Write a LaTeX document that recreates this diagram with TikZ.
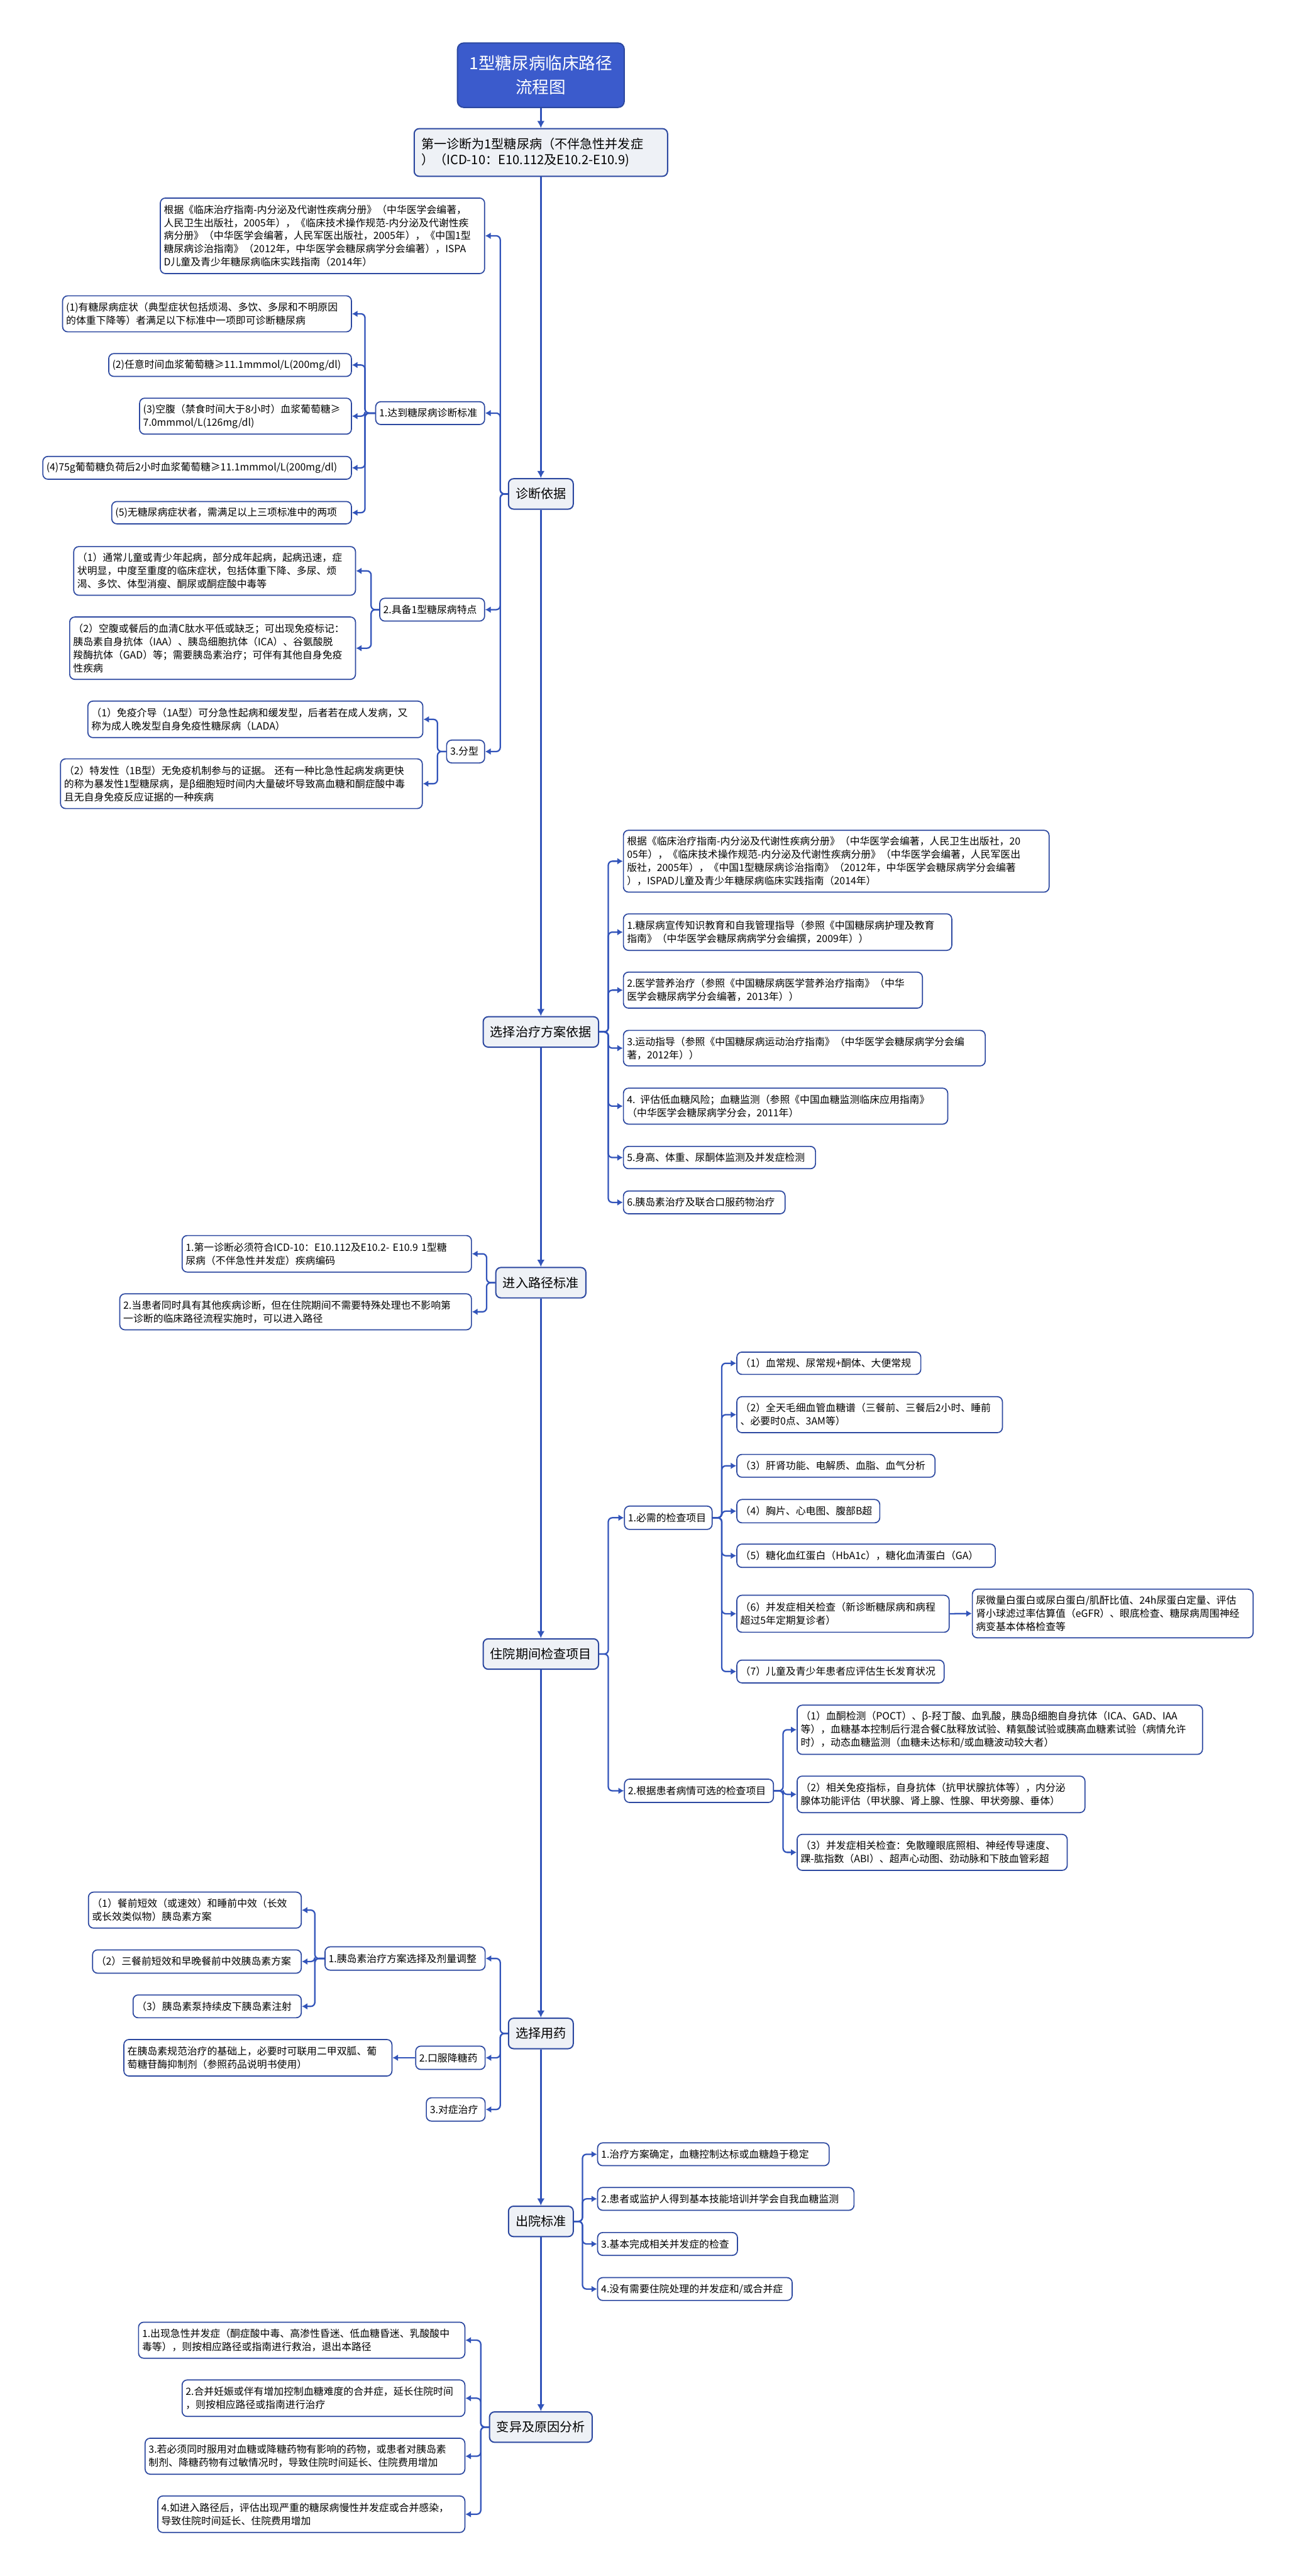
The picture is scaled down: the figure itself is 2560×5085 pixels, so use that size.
\documentclass[tikz,border=0pt]{standalone}
\usepackage{fontspec}
\setmainfont{Noto Sans CJK SC}
\usetikzlibrary{arrows.meta}
\definecolor{linkblue}{RGB}{50,84,186}
\definecolor{boxline}{RGB}{44,72,160}
\definecolor{mainfill}{RGB}{238,241,246}
\definecolor{titlefill}{RGB}{59,91,204}
\begin{document}
\begin{tikzpicture}[x=0.01cm,y=-0.01cm]
\tikzstyle{every node}=[font=\fontsize{5.6pt}{7.4pt}\selectfont]
\tikzstyle{mainbox}=[draw=boxline, fill=mainfill, line width=0.7pt, rounded corners=0.1cm, inner xsep=0.14cm, minimum height=0.6cm, font=\fontsize{7.1pt}{9pt}\selectfont]
\tikzstyle{leaf}=[draw=boxline, fill=white, line width=0.6pt, rounded corners=0.1cm, align=left, inner xsep=0.07cm, inner ysep=0.04cm]
\tikzstyle{spine}=[draw=linkblue, line width=1.1pt, -{Latex[length=1.4mm,width=1.5mm]}]
\tikzstyle{link}=[draw=linkblue, line width=0.8pt, rounded corners=0.08cm, -{Latex[length=1.1mm,width=1.3mm]}]
\fill [white] (0,0) rectangle (2560,5085);
\useasboundingbox (0,0) rectangle (2560,5085);
\node [draw=boxline, fill=titlefill, text=white, line width=0.7pt, rounded corners=0.12cm, align=center, minimum width=3.29cm, minimum height=1.27cm, font=\fontsize{9.4pt}{13.3pt}\selectfont] (top) at (1068,148.5) {1型糖尿病临床路径\\流程图};
\node [mainbox, align=left, text width=4.72cm, minimum height=0.94cm, inner xsep=0.14cm] (first) at (1068,301) {第一诊断为1型糖尿病（不伴急性并发症\\）（ICD-10：E10.112及E10.2-E10.9)};
\node [mainbox] (diag) at (1068,975) {诊断依据};
\node [mainbox] (treat) at (1068,2037) {选择治疗方案依据};
\node [mainbox] (entry) at (1068,2532) {进入路径标准};
\node [mainbox] (check) at (1068,3265) {住院期间检查项目};
\node [mainbox] (drug) at (1068,4014) {选择用药};
\node [mainbox] (leave) at (1068,4385) {出院标准};
\node [mainbox] (vary) at (1068,4791) {变异及原因分析};
\draw [spine] (top) -- (first);
\draw [spine] (first) -- (diag);
\draw [spine] (diag) -- (treat);
\draw [spine] (treat) -- (entry);
\draw [spine] (entry) -- (check);
\draw [spine] (check) -- (drug);
\draw [spine] (drug) -- (leave);
\draw [spine] (leave) -- (vary);
\node [leaf, anchor=east, text width=6.26cm, minimum height=1.49cm] (dref) at (958,465.5) {根据《临床治疗指南-内分泌及代谢性疾病分册》（中华医学会编著，\\人民卫生出版社，2005年），《临床技术操作规范-内分泌及代谢性疾\\病分册》（中华医学会编著，人民军医出版社，2005年），《中国1型\\糖尿病诊治指南》（2012年，中华医学会糖尿病学分会编著），ISPA\\D儿童及青少年糖尿病临床实践指南（2014年）};
\node [leaf, anchor=east, text width=2.01cm, minimum height=0.45cm] (dstd) at (958,815.5) {1.达到糖尿病诊断标准};
\node [leaf, anchor=east, text width=5.56cm, minimum height=0.71cm] (dstda) at (695,619.5) {(1)有糖尿病症状（典型症状包括烦渴、多饮、多尿和不明原因\\的体重下降等）者满足以下标准中一项即可诊断糖尿病};
\node [leaf, anchor=east, text width=4.65cm, minimum height=0.45cm] (dstdb) at (695,720.5) {(2)任意时间血浆葡萄糖≥11.1mmmol/L(200mg/dl)};
\node [leaf, anchor=east, text width=4.04cm, minimum height=0.71cm] (dstdc) at (695,821.5) {(3)空腹（禁食时间大于8小时）血浆葡萄糖≥\\7.0mmmol/L(126mg/dl)};
\node [leaf, anchor=east, text width=5.95cm, minimum height=0.45cm] (dstdd) at (695,923.5) {(4)75g葡萄糖负荷后2小时血浆葡萄糖≥11.1mmmol/L(200mg/dl)};
\node [leaf, anchor=east, text width=4.59cm, minimum height=0.44cm] (dstde) at (695,1012) {(5)无糖尿病症状者，需满足以上三项标准中的两项};
\node [leaf, anchor=east, text width=1.93cm, minimum height=0.45cm] (dfeat) at (958,1203.5) {2.具备1型糖尿病特点};
\node [leaf, anchor=east, text width=5.42cm, minimum height=0.96cm] (dfeata) at (703,1127) {（1）通常儿童或青少年起病，部分成年起病，起病迅速，症\\状明显，中度至重度的临床症状，包括体重下降、多尿、烦\\渴、多饮、体型消瘦、酮尿或酮症酸中毒等};
\node [leaf, anchor=east, text width=5.50cm, minimum height=1.23cm] (dfeatb) at (703,1279.5) {（2）空腹或餐后的血清C肽水平低或缺乏；可出现免疫标记：\\胰岛素自身抗体（IAA）、胰岛细胞抗体（ICA）、谷氨酸脱\\羧酶抗体（GAD）等；需要胰岛素治疗；可伴有其他自身免疫\\性疾病};
\node [leaf, anchor=east, text width=0.61cm, minimum height=0.45cm] (dtype) at (958,1483.5) {3.分型};
\node [leaf, anchor=east, text width=6.47cm, minimum height=0.72cm] (dtypea) at (836,1420) {（1）免疫介导（1A型）可分急性起病和缓发型，后者若在成人发病，又\\称为成人晚发型自身免疫性糖尿病（LADA）};
\node [leaf, anchor=east, text width=7.0cm, minimum height=0.98cm] (dtypeb) at (835,1547) {（2）特发性（1B型）无免疫机制参与的证据。 还有一种比急性起病发病更快\\的称为暴发性1型糖尿病，是β细胞短时间内大量破坏导致高血糖和酮症酸中毒\\且无自身免疫反应证据的一种疾病};
\draw [link] (diag.west) -- ++(-15,0) |- (dref.east);
\draw [link] (diag.west) -- ++(-15,0) |- (dstd.east);
\draw [link] (diag.west) -- ++(-15,0) |- (dfeat.east);
\draw [link] (diag.west) -- ++(-15,0) |- (dtype.east);
\draw [link] (dstd.west) -- ++(-20,0) |- (dstda.east);
\draw [link] (dstd.west) -- ++(-20,0) |- (dstdb.east);
\draw [link] (dstd.west) -- ++(-20,0) |- (dstdc.east);
\draw [link] (dstd.west) -- ++(-20,0) |- (dstdd.east);
\draw [link] (dstd.west) -- ++(-20,0) |- (dstde.east);
\draw [link] (dfeat.west) -- ++(-16,0) |- (dfeata.east);
\draw [link] (dfeat.west) -- ++(-16,0) |- (dfeatb.east);
\draw [link] (dtype.west) -- ++(-17,0) |- (dtypea.east);
\draw [link] (dtype.west) -- ++(-17,0) |- (dtypeb.east);
\node [leaf, anchor=west, text width=8.26cm, minimum height=1.22cm] (tref) at (1230,1700) {根据《临床治疗指南-内分泌及代谢性疾病分册》（中华医学会编著，人民卫生出版社，20\\05年），《临床技术操作规范-内分泌及代谢性疾病分册》（中华医学会编著，人民军医出\\版社，2005年），《中国1型糖尿病诊治指南》（2012年，中华医学会糖尿病学分会编著\\），ISPAD儿童及青少年糖尿病临床实践指南（2014年）};
\node [leaf, anchor=west, text width=6.34cm, minimum height=0.72cm] (tedu) at (1230,1840) {1.糖尿病宣传知识教育和自我管理指导（参照《中国糖尿病护理及教育\\指南》（中华医学会糖尿病病学分会编撰，2009年））};
\node [leaf, anchor=west, text width=5.76cm, minimum height=0.71cm] (tdiet) at (1230,1954.5) {2.医学营养治疗（参照《中国糖尿病医学营养治疗指南》（中华\\医学会糖尿病学分会编著，2013年））};
\node [leaf, anchor=west, text width=7.0cm, minimum height=0.70cm] (tsport) at (1230,2069) {3.运动指导（参照《中国糖尿病运动治疗指南》（中华医学会糖尿病学分会编\\著，2012年））};
\node [leaf, anchor=west, text width=6.26cm, minimum height=0.71cm] (tlow) at (1230,2183.5) {4. 评估低血糖风险；血糖监测（参照《中国血糖监测临床应用指南》\\（中华医学会糖尿病学分会，2011年）};
\node [leaf, anchor=west, text width=3.65cm, minimum height=0.44cm] (tbody) at (1230,2285) {5.身高、体重、尿酮体监测及并发症检测};
\node [leaf, anchor=west, text width=3.05cm, minimum height=0.45cm] (tins) at (1230,2373.5) {6.胰岛素治疗及联合口服药物治疗};
\draw [link] (treat.east) -- ++(18,0) |- (tref.west);
\draw [link] (treat.east) -- ++(18,0) |- (tedu.west);
\draw [link] (treat.east) -- ++(18,0) |- (tdiet.west);
\draw [link] (treat.east) -- ++(18,0) |- (tsport.west);
\draw [link] (treat.east) -- ++(18,0) |- (tlow.west);
\draw [link] (treat.east) -- ++(18,0) |- (tbody.west);
\draw [link] (treat.east) -- ++(18,0) |- (tins.west);
\node [leaf, anchor=east, text width=5.57cm, minimum height=0.72cm] (ecode) at (932,2475) {1.第一诊断必须符合ICD-10：E10.112及E10.2- E10.9 1型糖\\尿病（不伴急性并发症）疾病编码};
\node [leaf, anchor=east, text width=6.80cm, minimum height=0.71cm] (eother) at (932,2589.5) {2.当患者同时具有其他疾病诊断，但在住院期间不需要特殊处理也不影响第\\一诊断的临床路径流程实施时，可以进入路径};
\draw [link] (entry.west) -- ++(-17,0) |- (ecode.east);
\draw [link] (entry.west) -- ++(-17,0) |- (eother.east);
\node [leaf, anchor=west, text width=1.59cm, minimum height=0.46cm] (cneed) at (1232,2996) {1.必需的检查项目};
\node [leaf, anchor=west, text width=3.49cm, minimum height=0.44cm] (cneeda) at (1454,2691) {（1）血常规、尿常规+酮体、大便常规};
\node [leaf, anchor=west, text width=5.10cm, minimum height=0.71cm] (cneedb) at (1454,2792.5) {（2）全天毛细血管血糖谱（三餐前、三餐后2小时、睡前\\、必要时0点、3AM等）};
\node [leaf, anchor=west, text width=3.77cm, minimum height=0.45cm] (cneedc) at (1454,2893.5) {（3）肝肾功能、电解质、血脂、血气分析};
\node [leaf, anchor=west, text width=2.68cm, minimum height=0.46cm] (cneedd) at (1454,2983) {（4）胸片、心电图、腹部B超};
\node [leaf, anchor=west, text width=4.96cm, minimum height=0.46cm] (cneede) at (1454,3071) {（5）糖化血红蛋白（HbA1c），糖化血清蛋白（GA）};
\node [leaf, anchor=west, text width=4.05cm, minimum height=0.73cm] (cneedf) at (1454,3185.5) {（6）并发症相关检查（新诊断糖尿病和病程\\超过5年定期复诊者）};
\node [leaf, anchor=west, text width=5.40cm, minimum height=0.96cm] (cneedg) at (1919,3185) {尿微量白蛋白或尿白蛋白/肌酐比值、24h尿蛋白定量、评估\\肾小球滤过率估算值（eGFR）、眼底检查、糖尿病周围神经\\病变基本体格检查等};
\node [leaf, anchor=west, text width=3.95cm, minimum height=0.45cm] (cneedh) at (1454,3299.5) {（7）儿童及青少年患者应评估生长发育状况};
\node [leaf, anchor=west, text width=2.80cm, minimum height=0.46cm] (copt) at (1232,3535) {2.根据患者病情可选的检查项目};
\node [leaf, anchor=west, text width=7.86cm, minimum height=0.97cm] (copta) at (1573,3414.5) {（1）血酮检测（POCT）、β-羟丁酸、血乳酸，胰岛β细胞自身抗体（ICA、GAD、IAA\\等），血糖基本控制后行混合餐C肽释放试验、精氨酸试验或胰高血糖素试验（病情允许\\时），动态血糖监测（血糖未达标和/或血糖波动较大者）};
\node [leaf, anchor=west, text width=5.54cm, minimum height=0.72cm] (coptb) at (1573,3542) {（2）相关免疫指标，自身抗体（抗甲状腺抗体等），内分泌\\腺体功能评估（甲状腺、肾上腺、性腺、甲状旁腺、垂体）};
\node [leaf, anchor=west, text width=5.19cm, minimum height=0.71cm] (coptc) at (1573,3656.5) {（3）并发症相关检查：免散瞳眼底照相、神经传导速度、\\踝-肱指数（ABI）、超声心动图、劲动脉和下肢血管彩超};
\draw [link] (check.east) -- ++(18,0) |- (cneed.west);
\draw [link] (check.east) -- ++(18,0) |- (copt.west);
\draw [link] (cneed.east) -- ++(18,0) |- (cneeda.west);
\draw [link] (cneed.east) -- ++(18,0) |- (cneedb.west);
\draw [link] (cneed.east) -- ++(18,0) |- (cneedc.west);
\draw [link] (cneed.east) -- ++(18,0) |- (cneedd.west);
\draw [link] (cneed.east) -- ++(18,0) |- (cneede.west);
\draw [link] (cneed.east) -- ++(18,0) |- (cneedf.west);
\draw [link] (cneed.east) -- ++(18,0) |- (cneedh.west);
\draw [link] (cneedf.east) -- (cneedg.west);
\draw [link] (copt.east) -- ++(18,0) |- (copta.west);
\draw [link] (copt.east) -- ++(18,0) |- (coptb.west);
\draw [link] (copt.east) -- ++(18,0) |- (coptc.west);
\node [leaf, anchor=east, text width=3.02cm, minimum height=0.46cm] (mins) at (959,3866) {1.胰岛素治疗方案选择及剂量调整};
\node [leaf, anchor=east, text width=4.06cm, minimum height=0.71cm] (minsa) at (596,3770.5) {（1）餐前短效（或速效）和睡前中效（长效\\或长效类似物）胰岛素方案};
\node [leaf, anchor=east, text width=3.98cm, minimum height=0.46cm] (minsb) at (596,3872) {（2）三餐前短效和早晚餐前中效胰岛素方案};
\node [leaf, anchor=east, text width=3.18cm, minimum height=0.45cm] (minsc) at (596,3960.5) {（3）胰岛素泵持续皮下胰岛素注射};
\node [leaf, anchor=east, text width=1.23cm, minimum height=0.46cm] (moral) at (959,4062) {2.口服降糖药};
\node [leaf, anchor=east, text width=5.15cm, minimum height=0.72cm] (morala) at (775,4062) {在胰岛素规范治疗的基础上，必要时可联用二甲双胍、葡\\萄糖苷酶抑制剂（参照药品说明书使用）};
\node [leaf, anchor=east, text width=1.02cm, minimum height=0.46cm] (msym) at (959,4164) {3.对症治疗};
\draw [link] (drug.west) -- ++(-15,0) |- (mins.east);
\draw [link] (drug.west) -- ++(-15,0) |- (moral.east);
\draw [link] (drug.west) -- ++(-15,0) |- (msym.east);
\draw [link] (mins.west) -- ++(-19,0) |- (minsa.east);
\draw [link] (mins.west) -- ++(-19,0) |- (minsb.east);
\draw [link] (mins.west) -- ++(-19,0) |- (minsc.east);
\draw [link] (moral.west) -- (morala.east);
\node [leaf, anchor=west, text width=4.43cm, minimum height=0.45cm] (lplan) at (1179,4252.5) {1.治疗方案确定，血糖控制达标或血糖趋于稳定};
\node [leaf, anchor=west, text width=4.92cm, minimum height=0.45cm] (lskill) at (1179,4340.5) {2.患者或监护人得到基本技能培训并学会自我血糖监测};
\node [leaf, anchor=west, text width=2.62cm, minimum height=0.45cm] (ldone) at (1179,4429.5) {3.基本完成相关并发症的检查};
\node [leaf, anchor=west, text width=3.70cm, minimum height=0.45cm] (lnone) at (1179,4518.5) {4.没有需要住院处理的并发症和/或合并症};
\draw [link] (leave.east) -- ++(17,0) |- (lplan.west);
\draw [link] (leave.east) -- ++(17,0) |- (lskill.west);
\draw [link] (leave.east) -- ++(17,0) |- (ldone.west);
\draw [link] (leave.east) -- ++(17,0) |- (lnone.west);
\node [leaf, anchor=east, text width=6.30cm, minimum height=0.71cm] (vacute) at (919,4619.5) {1.出现急性并发症（酮症酸中毒、高渗性昏迷、低血糖昏迷、乳酸酸中\\毒等），则按相应路径或指南进行救治，退出本路径};
\node [leaf, anchor=east, text width=5.44cm, minimum height=0.72cm] (vpreg) at (919,4734) {2.合并妊娠或伴有增加控制血糖难度的合并症，延长住院时间\\，则按相应路径或指南进行治疗};
\node [leaf, anchor=east, text width=6.17cm, minimum height=0.71cm] (vmed) at (919,4848.5) {3.若必须同时服用对血糖或降糖药物有影响的药物，或患者对胰岛素\\制剂、降糖药物有过敏情况时，导致住院时间延长、住院费用增加};
\node [leaf, anchor=east, text width=5.92cm, minimum height=0.72cm] (vchron) at (919,4963) {4.如进入路径后，评估出现严重的糖尿病慢性并发症或合并感染，\\导致住院时间延长、住院费用增加};
\draw [link] (vary.west) -- ++(-16,0) |- (vacute.east);
\draw [link] (vary.west) -- ++(-16,0) |- (vpreg.east);
\draw [link] (vary.west) -- ++(-16,0) |- (vmed.east);
\draw [link] (vary.west) -- ++(-16,0) |- (vchron.east);
\end{tikzpicture}
\end{document}
